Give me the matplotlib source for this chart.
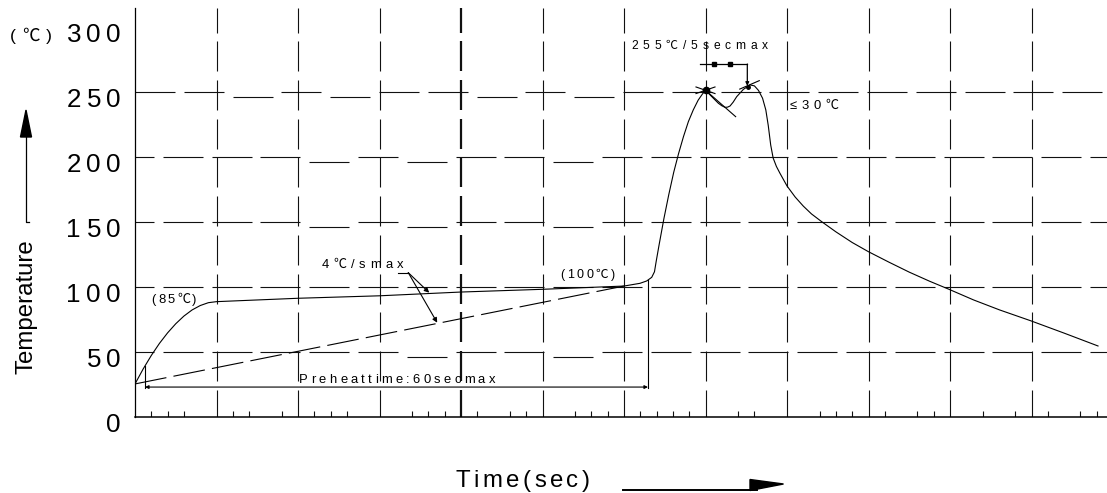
import matplotlib
matplotlib.use("Agg")
import matplotlib.pyplot as plt
from matplotlib.collections import LineCollection
from matplotlib.font_manager import FontProperties
from matplotlib.transforms import offset_copy
from matplotlib.patches import Polygon
from matplotlib.lines import Line2D

FAMILY = ["Liberation Sans", "Noto Sans CJK SC", "DejaVu Sans"]
plt.rcParams["font.family"] = FAMILY

# ---- reflow profile: time in grid divisions, temperature in °C ----
profile_t = [0.000, 0.100, 0.200, 0.300, 0.400, 0.500, 0.600, 0.700, 0.800, 0.900,
             1.000, 2.000, 3.000, 4.000, 5.000, 6.000, 6.196, 6.278, 6.340, 6.374,
             6.395, 6.430, 6.490, 6.550, 6.610, 6.670, 6.730, 6.790, 6.850, 6.910,
             6.960, 7.000, 7.040, 7.077, 7.158, 7.200, 7.239, 7.270, 7.301, 7.340,
             7.383, 7.465, 7.546, 7.600, 7.650, 7.700, 7.740, 7.770, 7.800, 7.830,
             7.870, 7.914, 8.000, 8.100, 8.200, 8.300, 8.426, 8.600, 8.800, 9.000,
             9.250, 9.500, 9.750, 9.980, 10.290, 10.610, 10.990, 11.400, 11.816]
profile_T = [25.2, 36.7, 47.1, 56.4, 64.5, 71.5, 77.4, 82.1, 85.5, 87.7,
             88.5, 91.1, 93.0, 95.9, 98.0, 100.5, 102.6, 104.4, 107.2, 111.5,
             119.5, 132.0, 152.5, 171.0, 188.0, 202.5, 215.5, 227.0, 236.0, 243.5,
             248.0, 251.1, 248.5, 246.2, 241.1, 239.2, 238.0, 238.1, 239.0, 242.0,
             246.2, 251.8, 255.2, 254.5, 251.0, 245.0, 236.0, 224.0, 209.0, 199.0,
             192.5, 187.2, 177.5, 169.0, 162.0, 156.0, 150.0, 142.2, 134.0, 126.9,
             118.9, 111.2, 104.2, 98.2, 89.8, 82.1, 73.8, 64.3, 54.4]

# 4 °C/s max reference ramp
ramp_t = [0.0, 6.0]
ramp_T = [25.2, 100.5]

# temperature axis
y_ticks = [0, 50, 100, 150, 200, 250, 300]
y_tick_labels = ["0", "50", "100", "150", "200", "250", "300"]
grid_T = [50, 100, 150, 200, 250]
grid_t = [1, 2, 3, 4, 5, 6, 7, 8, 9, 10, 11]

# fifth-division ticks present in each division of the time axis
minor_ticks = {0: [1, 2, 3], 1: [1, 2, 4], 2: [1, 2, 3], 3: [2, 3, 4], 4: [1, 3, 4],
               5: [2, 3, 4], 6: [1, 2, 3, 4], 7: [2, 3], 8: [2, 3, 4], 9: [1, 3, 4],
               10: [2, 4], 11: [1, 3, 4]}

peak1 = (7.000, 251.1)
peak2 = (7.520, 254.0)
preheat_start, preheat_end, preheat_level = 0.123, 6.294, 22.8

# ---- figure / axes geometry ----
W, H = 1107, 493
X0, Y0 = 135.0, 416.7      # pixel position of the origin
PX_T, PX_C = 81.5, 1.3     # pixels per time division / per °C
TMAX = (W - X0) / PX_T
CMAX = (Y0 - 8) / PX_C

fig = plt.figure(figsize=(W / 100, H / 100), dpi=100)
ax = fig.add_axes([X0 / W, (H - Y0) / H, (W - X0) / W, (Y0 - 8) / H])
ax.set_xlim(0, TMAX)
ax.set_ylim(0, CMAX)
ax.set_xticks([])
ax.set_yticks([])
for s in ("top", "right"):
    ax.spines[s].set_visible(False)
ax.spines["left"].set_linewidth(0.9)
ax.spines["bottom"].set_linewidth(1.1)
ax.patch.set_alpha(0)

INK = "#111111"


def fx(px):
    return px / W


def fy(py):
    return 1 - py / H


# ---- dashed grid ----
h_dash, h_period = 40 / PX_T, 48.8 / PX_T
h_drop = 5 / PX_C
h_layout = {250: (0.0, {2, 4, 7, 9}),
            200: (-21 / PX_T, {4, 6, 9}),
            150: (-21 / PX_T, {4, 6, 9}),
            100: (-21 / PX_T, set()),
            50: (-21 / PX_T, {6, 9})}
segs = []
for T in grid_T:
    start, dropped = h_layout[T]
    k = 0
    while start + k * h_period < TMAX:
        a = max(start + k * h_period, 0)
        b = min(start + k * h_period + h_dash, TMAX)
        yy = T - h_drop if k in dropped else T
        if b > a:
            segs.append([(a, yy), (b, yy)])
        k += 1
ax.add_collection(LineCollection(segs, colors=INK, linewidths=0.8))

v_period, v_dash = 38.7 / PX_C, 30 / PX_C
v_top = (Y0 - 2.6) / PX_C
vsegs = []
k = 0
while v_top - k * v_period > 0:
    hi = min(v_top - k * v_period, CMAX)
    lo = max(v_top - k * v_period - v_dash, 0)
    if hi > lo:
        vsegs.append((lo, hi))
    k += 1
for t in grid_t:
    lw = 1.6 if t == 4 else 0.8
    ax.add_collection(LineCollection([[(t, lo), (t, hi)] for lo, hi in vsegs],
                                     colors=INK, linewidths=lw))

# fifth-division ticks on the time axis
tick_pos = [cell + k / 5 for cell, ks in minor_ticks.items() for k in ks]
ax.vlines(tick_pos, 0, 6 / PX_C, colors=INK, linewidth=0.8)

# ---- curves ----
ax.plot(profile_t, profile_T, color="black", lw=0.8, solid_joinstyle="round")
ax.plot(ramp_t, ramp_T, color="black", lw=0.8, dashes=(28.8, 6.5))

# peak markings
ax.plot(*peak1, marker="o", ms=4.5, color="black")
dt, dT = 9.5 / PX_T, 3.3 / PX_C
ax.plot([peak1[0] - dt, peak1[0] + dt], [peak1[1] + dT, peak1[1] - dT], color="black", lw=0.8)
ax.plot([peak1[0] - dt, peak1[0] + dt], [peak1[1] - dT, peak1[1] + dT], color="black", lw=0.8)
ax.plot([peak1[0], 7.37], [peak1[1], 230.8], color="black", lw=0.8)
ax.plot([7.42, 7.66], [252.0, 258.5], color="black", lw=0.8)
ax.plot(*peak2, marker="o", ms=2.5, color="black")

# 255 °C / 5 s bracket
br_level = 271.3
ax.plot([6.933, 7.513], [br_level, br_level], color="black", lw=0.9)
ax.plot([7.104, 7.301], [br_level, br_level], ls="none", marker="s", ms=3.5, color="black")
ax.annotate("", xy=(7.513, peak2[1] + 0.5), xytext=(7.513, br_level),
            arrowprops=dict(arrowstyle="-|>", lw=0.9, color="black",
                            mutation_scale=5, shrinkA=0, shrinkB=0))

# preheat time dimension
ax.plot([preheat_start, preheat_start], [preheat_level - 1, 38.8], color="black", lw=0.8)
ax.plot([preheat_end, preheat_end], [preheat_level - 1, 105.0], color="black", lw=0.8)
ax.annotate("", xy=(preheat_end, preheat_level), xytext=(preheat_start, preheat_level),
            arrowprops=dict(arrowstyle="<|-|>", lw=0.8, color="black",
                            mutation_scale=5, shrinkA=0, shrinkB=0))

# 4 °C/s leaders
ax.plot([3.231, 3.353], [110.8, 110.8], color="black", lw=0.8)
for tip in [(3.610, 95.4), (3.708, 72.3)]:
    ax.annotate("", xy=tip, xytext=(3.353, 110.8),
                arrowprops=dict(arrowstyle="-|>", lw=0.8, color="black",
                                mutation_scale=7, shrinkA=0, shrinkB=0))

# ---- letter-spaced text ----
renderer = fig.canvas.get_renderer()


def tracked(x, y, s, size_px, transform, width=None, gap=None, ha="left"):
    fp = FontProperties(family=FAMILY, size=size_px * 0.72)
    advs = [renderer.get_text_width_height_descent(c, fp, ismath=False)[0] for c in s]
    if width is not None:
        gap = (width - sum(advs)) / max(len(s) - 1, 1)
    total = sum(advs) + gap * (len(s) - 1)
    pos = {"left": 0.0, "center": -total / 2, "right": -total}[ha]
    for c, w in zip(s, advs):
        fig.text(x, y, c, fontproperties=fp, color="black", ha="left", va="baseline",
                 transform=offset_copy(transform, fig=fig, x=pos, y=0, units="dots"))
        pos += w + gap


tracked(6.086, 282.6, "255℃/5secmax", 12, ax.transData, width=137)
tracked(8.037, 237.0, "≤30℃", 13, ax.transData, width=48)
tracked(2.291, 114.2, "4℃/smax", 13, ax.transData, width=81.6)
tracked(5.215, 106.7, "(100℃)", 12.5, ax.transData, width=55)
tracked(0.205, 87.8, "(85℃)", 13, ax.transData, width=45)
tracked(2.016, 25.6, "Preheattime:60secmax", 13, ax.transData, width=195.7)

# temperature tick labels
for v, lab in zip(y_ticks, y_tick_labels):
    py = Y0 - v * PX_C + 15.5
    tracked(fx(121), fy(py), lab, 26, fig.transFigure, gap=5.5, ha="right")

tracked(fx(10), fy(40.5), "(℃)", 17.5, fig.transFigure, width=41.7)
tracked(fx(455), fy(486.7), "Time(sec)", 24, fig.transFigure, width=135)

fig.text(fx(27), fy(307), "Temperature", rotation=90, ha="center", va="center",
         fontsize=17.3, color="black")

# axis direction arrows
fig.add_artist(Line2D([fx(26), fx(26), fx(29)], [fy(136), fy(221.7), fy(221.7)],
                      transform=fig.transFigure, color="black", lw=0.9))
fig.add_artist(Polygon([(fx(20.5), fy(137)), (fx(31.5), fy(137)), (fx(26), fy(110))],
                       closed=True, transform=fig.transFigure, color="black"))
fig.add_artist(Line2D([fx(623), fx(757)], [fy(490), fy(490)],
                      transform=fig.transFigure, color="black", lw=1.4))
fig.add_artist(Polygon([(fx(750), fy(479.5)), (fx(783.5), fy(484)), (fx(750), fy(490.5))],
                       closed=True, transform=fig.transFigure, color="black"))

fig.savefig("out.png", dpi=100, facecolor="white")
